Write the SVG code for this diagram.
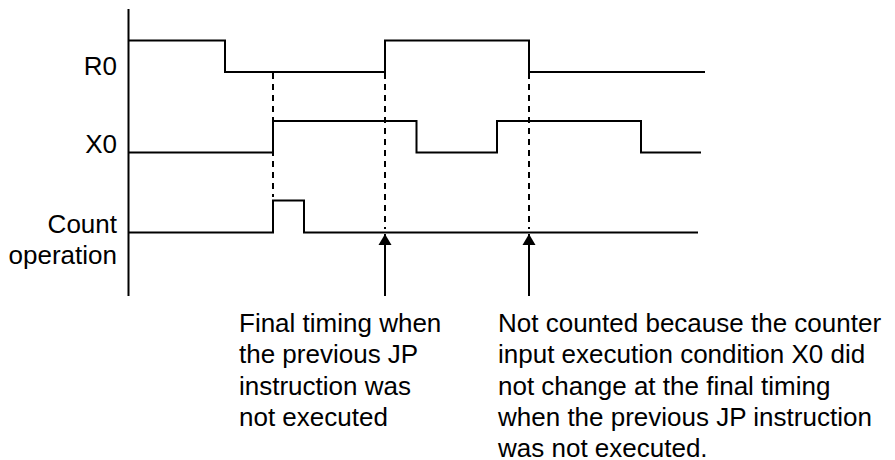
<svg xmlns="http://www.w3.org/2000/svg" width="895" height="460" viewBox="0 0 895 460">
  <style>
    text { font-family: "Liberation Sans", Arial, sans-serif; font-size: 26px; fill: #000; }
    .lbl { text-anchor: end; }
    .sig { fill: none; stroke: #000; stroke-width: 2; stroke-linejoin: miter; }
    .dash { fill: none; stroke: #000; stroke-width: 2; stroke-dasharray: 6 5; }
    .arr { fill: none; stroke: #000; stroke-width: 2; }
  </style>
  <defs>
    <marker id="ah" markerUnits="userSpaceOnUse" markerWidth="14" markerHeight="14" viewBox="0 0 14 14" refX="12" refY="7" orient="auto">
      <path d="M1,0.5 L12,7 L1,13.5 Z" fill="#000"/>
    </marker>
  </defs>
  <rect width="895" height="460" fill="#fff"/>

  <g id="axis">
    <line x1="128.5" y1="9" x2="128.5" y2="296" class="sig"/>
  </g>

  <g id="R0">
    <text class="lbl" x="117" y="75">R0</text>
    <path class="sig" d="M128,40.5 H225 V72 H385 V40.5 H529 V72 H705"/>
  </g>

  <g id="X0">
    <text class="lbl" x="117" y="153">X0</text>
    <path class="sig" d="M128,152.5 H273 V121 H416.5 V152.5 H497 V121 H641 V152.5 H701"/>
  </g>

  <g id="count">
    <text class="lbl" x="117" y="233">Count</text>
    <text class="lbl" x="117" y="264">operation</text>
    <path class="sig" d="M128,232.5 H273 V200.5 H304 V232.5 H698"/>
  </g>

  <g id="connectors">
    <line class="dash" x1="273" y1="73" x2="273" y2="197"/>
    <line class="dash" x1="385" y1="73" x2="385" y2="229"/>
    <line class="dash" x1="529" y1="73" x2="529" y2="229"/>
    <line class="arr" x1="385" y1="296" x2="385" y2="234" marker-end="url(#ah)"/>
    <line class="arr" x1="529" y1="296" x2="529" y2="234" marker-end="url(#ah)"/>
  </g>

  <g id="note1">
    <text x="239" y="331.5">Final timing when</text>
    <text x="239" y="363.3">the previous JP</text>
    <text x="239" y="395">instruction was</text>
    <text x="239" y="426.3">not executed</text>
  </g>

  <g id="note2">
    <text x="498" y="331.5">Not counted because the counter</text>
    <text x="498" y="363.3">input execution condition X0 did</text>
    <text x="498" y="395">not change at the final timing</text>
    <text x="498" y="426.3">when the previous JP instruction</text>
    <text x="498" y="457.3">was not executed.</text>
  </g>
</svg>
